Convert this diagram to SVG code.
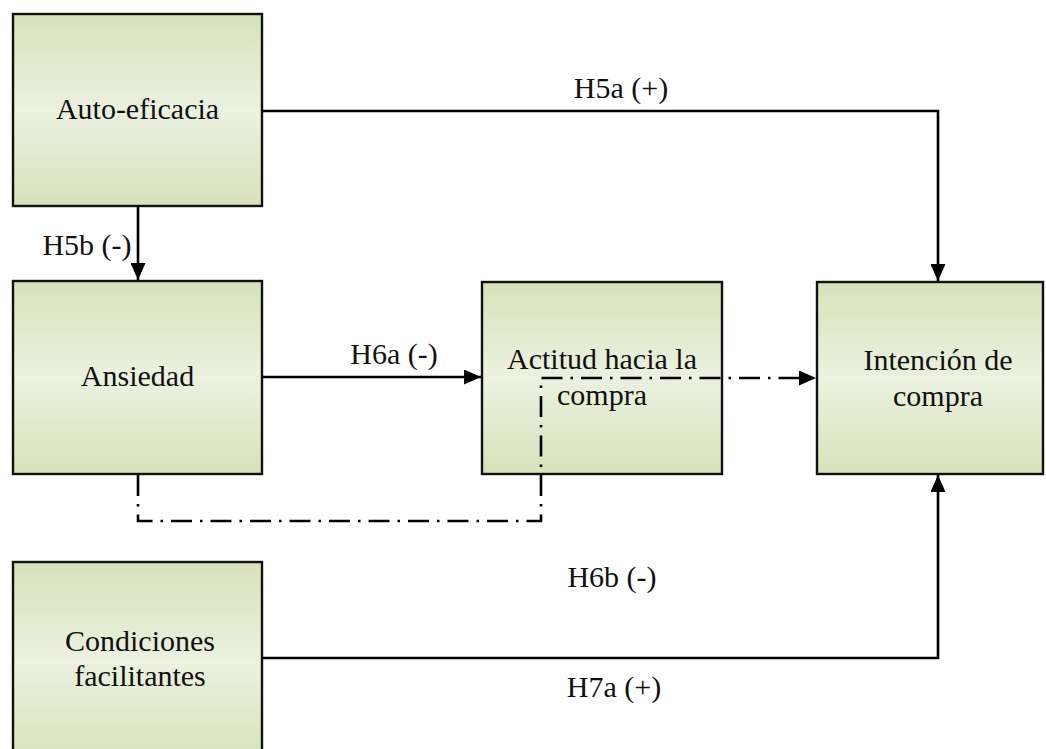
<svg xmlns="http://www.w3.org/2000/svg" width="1046" height="749" viewBox="0 0 1046 749">
  <defs>
    <linearGradient id="boxFill" x1="0" y1="0" x2="0" y2="1">
      <stop offset="0" stop-color="#d6e2bb"/>
      <stop offset="0.5" stop-color="#ecf1e0"/>
      <stop offset="1" stop-color="#d6e2bb"/>
    </linearGradient>
    <marker id="arrow" viewBox="0 0 17 15" refX="17" refY="7.5" markerWidth="17" markerHeight="15" markerUnits="userSpaceOnUse" orient="auto">
      <path d="M0,0 L17,7.5 L0,15 Z" fill="#000"/>
    </marker>
  </defs>
  <style>
    .box { fill: url(#boxFill); stroke: #111; stroke-width: 2.4; }
    .lbl { font-family: "Liberation Serif", "Times New Roman", serif; font-size: 30px; fill: #111; text-anchor: middle; }
    .link { fill: none; stroke: #000; stroke-width: 2.6; }
    .dashdot { stroke-dasharray: 21 8 2.5 8; }
  </style>

  <rect width="1046" height="749" fill="#fff"/>

  <!-- nodes -->
  <g id="auto-eficacia">
    <rect class="box" x="13" y="14" width="249" height="192"/>
    <text class="lbl" x="137.5" y="119">Auto-eficacia</text>
  </g>
  <g id="ansiedad">
    <rect class="box" x="13" y="281" width="249" height="193"/>
    <text class="lbl" x="137.5" y="386">Ansiedad</text>
  </g>
  <g id="actitud">
    <rect class="box" x="482" y="282" width="240" height="192"/>
    <text class="lbl" x="602" y="369">Actitud hacia la</text>
    <text class="lbl" x="602" y="405">compra</text>
  </g>
  <g id="intencion">
    <rect class="box" x="817" y="282" width="226" height="192"/>
    <text class="lbl" x="938" y="370">Intención de</text>
    <text class="lbl" x="938" y="406">compra</text>
  </g>
  <g id="condiciones">
    <rect class="box" x="13" y="562" width="249" height="200"/>
    <text class="lbl" x="140" y="651">Condiciones</text>
    <text class="lbl" x="140" y="686">facilitantes</text>
  </g>

  <!-- connectors, drawn over the boxes -->
  <g id="connectors">
    <path class="link" d="M262,111 H938 V281" marker-end="url(#arrow)"/>
    <path class="link" d="M138,206 V280" marker-end="url(#arrow)"/>
    <path class="link" d="M262,377 H481" marker-end="url(#arrow)"/>
    <path class="link" d="M262,658 H938 V475" marker-end="url(#arrow)"/>
    <path class="link dashdot" d="M138,475 V521 H541 V378 H816" marker-end="url(#arrow)"/>
    <text class="lbl" x="621" y="98">H5a (+)</text>
    <text class="lbl" x="87" y="255">H5b (-)</text>
    <text class="lbl" x="394" y="364">H6a (-)</text>
    <text class="lbl" x="612" y="587">H6b (-)</text>
    <text class="lbl" x="614" y="697">H7a (+)</text>
  </g>
</svg>
